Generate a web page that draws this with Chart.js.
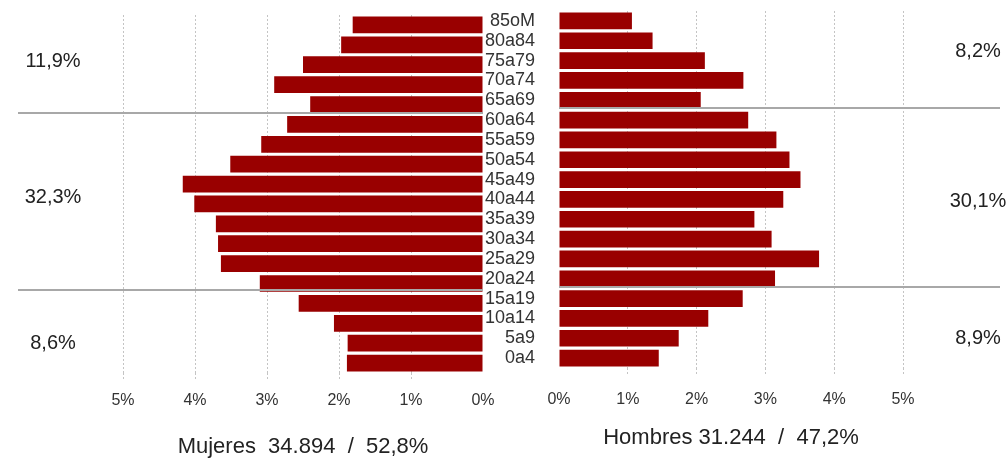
<!DOCTYPE html>
<html>
<head>
<meta charset="utf-8">
<script src="https://cdn.jsdelivr.net/npm/chart.js@4"></script>
<style>
  body { margin: 0; background: #fff; }
  #wrap { position: relative; width: 1008px; height: 461px; }
  #izq { position: absolute; left: 0; top: 0; }
  #der { position: absolute; left: 480px; top: 0; }
</style>
</head>
<body>
<div id="wrap">
  <canvas id="izq" width="500" height="461"></canvas>
  <canvas id="der" width="528" height="461"></canvas>
</div>
<script>
var grupos = ['85oM','80a84','75a79','70a74','65a69','60a64','55a59','50a54','45a49',
  '40a44','35a39','30a34','25a29','20a24','15a19','10a14','5a9','0a4']
var mujeres = [1.81, 1.97, 2.50, 2.90, 2.40, 2.72, 3.08, 3.51, 4.17,
  4.01, 3.71, 3.68, 3.64, 3.10, 2.56, 2.07, 1.88, 1.89]
var hombres = [1.06, 1.36, 2.12, 2.68, 2.06, 2.75, 3.16, 3.35, 3.51,
  3.26, 2.84, 3.09, 3.78, 3.14, 2.67, 2.17, 1.74, 1.45]
var bloquesMujeres = ['11,9%', '32,3%', '8,6%']
var bloquesHombres = ['8,2%', '30,1%', '8,9%']
var tituloMujeres = 'Mujeres  34.894  /  52,8%'
var tituloHombres = 'Hombres 31.244  /  47,2%'

var rojo = '#990000'
var sans = "'Liberation Sans', Arial, sans-serif"

// lineas de corte entre bloques de edad y porcentajes de cada bloque
var bandas = {
  id: 'bandas',
  afterDatasetsDraw: function(chart, args, opts) {
    var ctx = chart.ctx, y = chart.scales.y, area = chart.chartArea
    var x0 = opts.desde === 'area' ? area.left : opts.desde
    var x1 = opts.hasta === 'area' ? area.right : opts.hasta
    ctx.save()
    ctx.strokeStyle = '#a8a8a8'
    ctx.lineWidth = 2
    opts.cortes.forEach(function(c) {
      var py = Math.round(y.getPixelForValue(c))
      ctx.beginPath()
      ctx.moveTo(x0, py)
      ctx.lineTo(x1, py)
      ctx.stroke()
    })
    ctx.fillStyle = '#222'
    ctx.font = '20px ' + sans
    ctx.textAlign = 'center'
    ctx.textBaseline = 'middle'
    opts.textos.forEach(function(t, i) {
      ctx.fillText(t, opts.textoX, y.getPixelForValue(opts.textoY[i]))
    })
    ctx.restore()
  }
}

function ejeX(reverse, padding, titulo, tituloPad, alto) {
  return {
    type: 'linear', min: 0, max: 5, reverse: reverse,
    afterFit: function(s) { s.height = alto; s.paddingLeft = 0; s.paddingRight = 0 },
    border: { display: false, dash: [2, 2] },
    grid: {
      color: function(c) { return c.tick && c.tick.value === 0 ? 'rgba(0,0,0,0)' : '#c4c4c4' },
      tickBorderDash: [2, 2], tickLength: 8, lineWidth: 1
    },
    ticks: {
      stepSize: 1, padding: padding, color: '#333',
      font: { family: sans, size: 16 },
      callback: function(v) { return v + '%' }
    },
    title: {
      display: true, text: titulo, color: '#222',
      font: { family: sans, size: 22 },
      padding: { top: 0, bottom: tituloPad }
    }
  }
}

new Chart(document.getElementById('izq'), {
  type: 'bar',
  data: {
    labels: grupos,
    datasets: [{ data: mujeres, backgroundColor: rojo, barPercentage: 0.84, categoryPercentage: 1 }]
  },
  options: {
    indexAxis: 'y', responsive: false, animation: false,
    layout: { padding: { left: 123, right: 17, top: 15, bottom: 0 } },
    plugins: {
      legend: { display: false }, tooltip: { enabled: false },
      bandas: { cortes: [4.45, 13.35], desde: 18, hasta: 'area', textos: bloquesMujeres, textoX: 53, textoY: [1.85, 8.7, 16] }
    },
    scales: {
      x: ejeX(true, 10, tituloMujeres, 1, 88),
      y: { display: false }
    }
  },
  plugins: [bandas]
})

new Chart(document.getElementById('der'), {
  type: 'bar',
  data: {
    labels: grupos,
    datasets: [{ data: hombres, backgroundColor: rojo, barPercentage: 0.84, categoryPercentage: 1 }]
  },
  options: {
    indexAxis: 'y', responsive: false, animation: false,
    layout: { padding: { left: 0, right: 105, top: 11, bottom: 0 } },
    plugins: {
      legend: { display: false }, tooltip: { enabled: false },
      bandas: { cortes: [4.4, 13.4], desde: 'area', hasta: 520, textos: bloquesHombres, textoX: 498, textoY: [1.56, 9.1, 16] }
    },
    scales: {
      x: ejeX(false, 14, tituloHombres, 10, 93),
      y: {
        afterFit: function(s) { s.width = 79; s.paddingTop = 0; s.paddingBottom = 0 },
        grid: { display: false }, border: { display: false },
        ticks: { padding: 16, color: '#333', autoSkip: false, font: { family: sans, size: 18 } }
      }
    }
  },
  plugins: [bandas]
})
</script>
</body>
</html>
